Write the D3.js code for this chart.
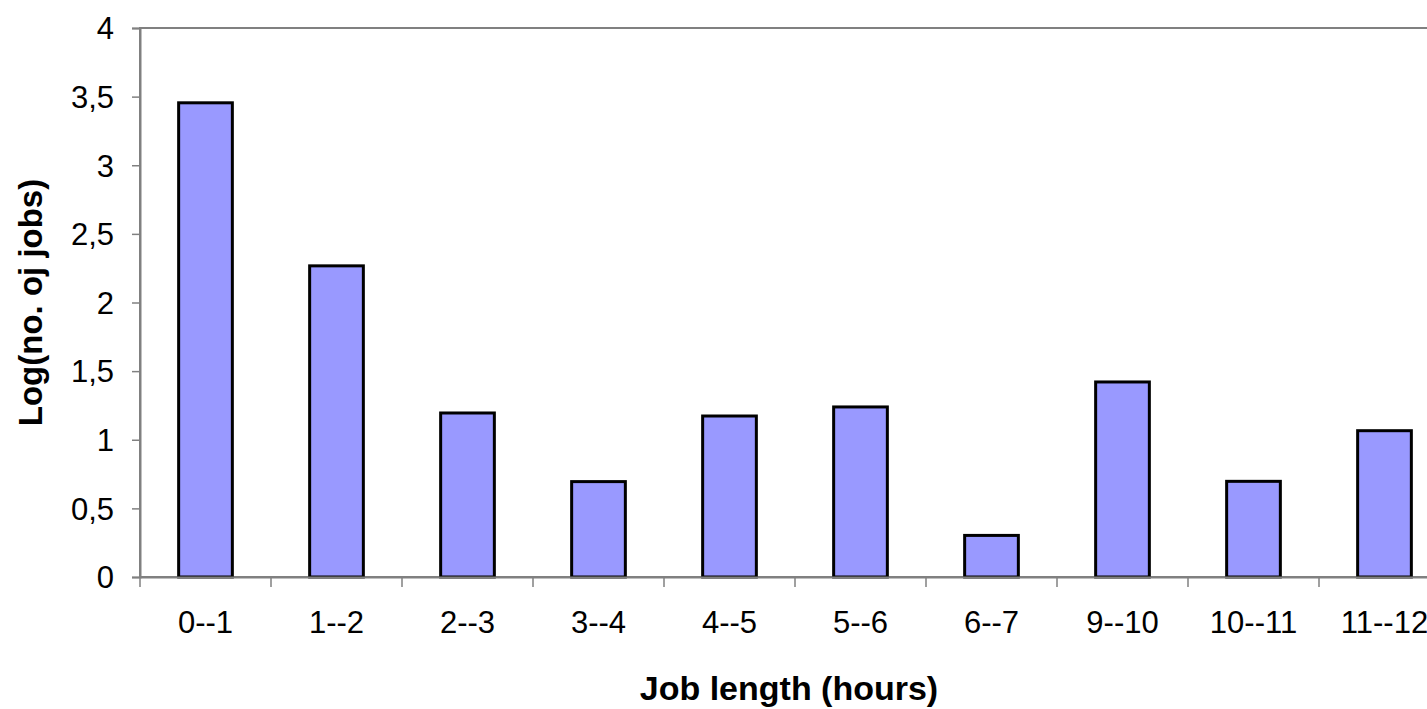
<!DOCTYPE html>
<html>
<head>
<meta charset="utf-8">
<script src="https://cdn.jsdelivr.net/npm/d3@7"></script>
<style>
  html, body { margin: 0; padding: 0; background: #fff; overflow: hidden; }
  svg { display: block; font-family: "Liberation Sans", Arial, sans-serif; }
</style>
</head>
<body>
<svg id="chart" width="1427" height="709"></svg>
<script>
const categories = ["0--1", "1--2", "2--3", "3--4", "4--5", "5--6", "6--7", "9--10", "10--11", "11--12"];
const values = [3.455, 2.267, 1.195, 0.695, 1.173, 1.239, 0.303, 1.421, 0.697, 1.066];
const yTicks = [0, 0.5, 1, 1.5, 2, 2.5, 3, 3.5, 4];
const xTitle = "Job length (hours)";
const yTitle = "Log(no. oj jobs)";

const svg = d3.select("#chart");
const plot = { left: 140, right: 1450, top: 28, bottom: 577 };

const x = d3.scaleBand().domain(categories).range([plot.left, plot.right])
  .paddingInner(0.59).paddingOuter(0.295);
const y = d3.scaleLinear().domain([0, 4]).range([plot.bottom, plot.top]);

const axisColor = "#808080";

// plot area border
svg.append("rect")
  .attr("x", plot.left).attr("y", plot.top)
  .attr("width", plot.right - plot.left).attr("height", plot.bottom - plot.top)
  .attr("fill", "none").attr("stroke", axisColor).attr("stroke-width", 2);

// bars
svg.append("g").selectAll("rect").data(values).join("rect")
  .attr("x", (d, i) => x(categories[i]))
  .attr("y", d => y(d))
  .attr("width", x.bandwidth())
  .attr("height", d => y(0) - y(d))
  .attr("fill", "#9999FF")
  .attr("stroke", "#000")
  .attr("stroke-width", 3);

// y axis
const yAxis = svg.append("g")
  .attr("transform", `translate(${plot.left},0)`)
  .call(d3.axisLeft(y).tickValues(yTicks).tickSize(8).tickPadding(18)
        .tickFormat(d => String(d).replace(".", ",")));
yAxis.select(".domain").attr("stroke", axisColor).attr("stroke-width", 2);
yAxis.selectAll(".tick line").attr("stroke", axisColor).attr("stroke-width", 1.5);
yAxis.selectAll(".tick text")
  .attr("font-size", 31).attr("font-family", "Liberation Sans, Arial, sans-serif")
  .attr("fill", "#000").attr("dy", "0.35em");

// x axis (labels)
const xAxis = svg.append("g")
  .attr("transform", `translate(0,${plot.bottom})`)
  .call(d3.axisBottom(x).tickSize(0).tickPadding(0));
xAxis.select(".domain").attr("stroke", axisColor).attr("stroke-width", 2);
xAxis.selectAll(".tick text")
  .attr("font-size", 31).attr("font-family", "Liberation Sans, Arial, sans-serif")
  .attr("fill", "#000").attr("y", 56).attr("dy", 0);

// x tick marks at category boundaries
const half = (x.step() - x.bandwidth()) / 2;
const bounds = categories.map(c => x(c) - half).concat([x(categories[categories.length - 1]) + x.bandwidth() + half]);
svg.append("g").selectAll("line").data(bounds).join("line")
  .attr("x1", d => d).attr("x2", d => d)
  .attr("y1", plot.bottom).attr("y2", plot.bottom + 10)
  .attr("stroke", axisColor).attr("stroke-width", 1.5);

// titles
svg.append("text")
  .attr("x", (plot.left + plot.right) / 2 - 6).attr("y", 700)
  .attr("text-anchor", "middle")
  .attr("font-size", 34).attr("font-weight", "bold")
  .text(xTitle);

svg.append("text")
  .attr("transform", `translate(42,${(plot.top + plot.bottom) / 2}) rotate(-90)`)
  .attr("text-anchor", "middle")
  .attr("font-size", 33).attr("font-weight", "bold")
  .text(yTitle);
</script>
</body>
</html>
